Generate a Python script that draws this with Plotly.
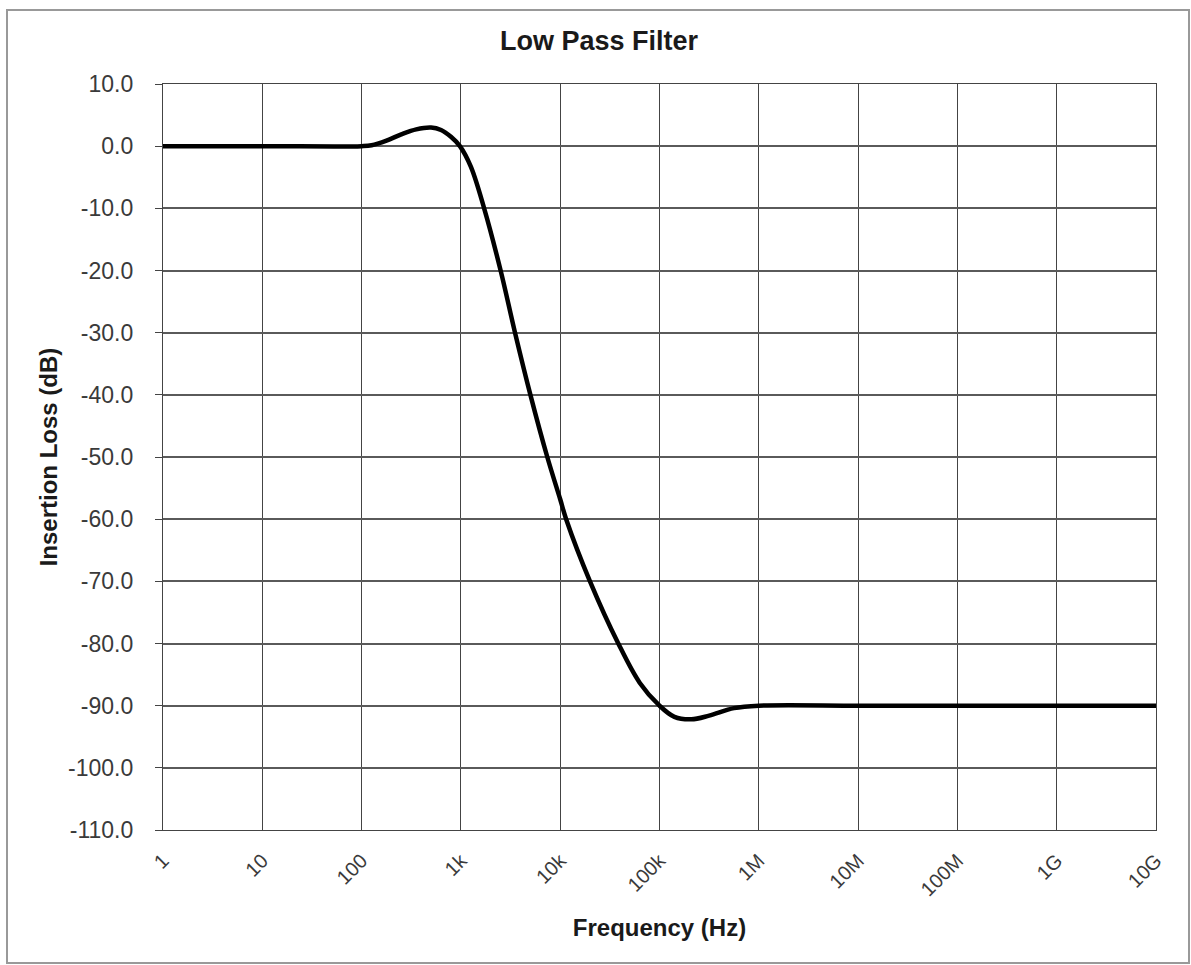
import plotly.graph_objects as go

# Data
freq_hz = [1, 10, 100, 126, 178, 251, 355, 501, 631, 794, 977, 1259, 1714,
           2512, 3508, 5012, 7413, 10000, 11482, 19953, 38459, 63096, 100000,
           141254, 208930, 316228, 562341, 1e6, 1e7, 1e8, 1e9, 1e10]
loss_db = [0.0, 0.0, 0.0, 0.15, 0.9, 1.9, 2.7, 3.0, 2.6, 1.5, 0.0, -3.3, -10.0,
           -20.0, -30.0, -40.0, -50.0, -56.8, -60.0, -70.0, -80.0, -86.3, -90.0,
           -91.8, -92.2, -91.6, -90.4, -90.0, -90.0, -90.0, -90.0, -90.0]

x_tickvals = [1, 10, 100, 1e3, 1e4, 1e5, 1e6, 1e7, 1e8, 1e9, 1e10]
x_ticktext = ["1", "10", "100", "1k", "10k", "100k", "1M", "10M", "100M", "1G", "10G"]
y_tickvals = list(range(10, -111, -10))
y_ticktext = ["10.0", "0.0", "-10.0", "-20.0", "-30.0", "-40.0", "-50.0", "-60.0",
              "-70.0", "-80.0", "-90.0", "-100.0", "-110.0"]

W, H = 1191, 965
L, T = 163, 84
R = W - 1156
B = H - 830
pw, ph = W - L - R, H - T - B

fig = go.Figure()
fig.add_trace(go.Scatter(x=freq_hz, y=loss_db, mode="lines",
                         line=dict(color="black", width=4.5, shape="spline", smoothing=1.0),
                         showlegend=False, hoverinfo="x+y"))

font = "Liberation Sans, Arial, sans-serif"
fig.update_layout(
    width=W, height=H,
    margin=dict(l=L, r=R, t=T, b=B),
    paper_bgcolor="white", plot_bgcolor="white",
    font=dict(family=font, color="#222", size=20),
    title=dict(text="<b>Low Pass Filter</b>", x=599 / W, xanchor="center",
               y=1 - 41 / H, yanchor="middle", font=dict(size=27, color="#1a1a1a")),
    xaxis=dict(type="log", range=[0, 10], tickvals=x_tickvals, ticktext=x_ticktext,
               tickangle=-45, showgrid=True, gridcolor="#444", gridwidth=1.3,
               showline=True, linecolor="#444", linewidth=1.3, mirror=True,
               ticks="", tickfont=dict(size=20, color="#3a3a3a"), ticklabelstandoff=10,
               title=dict(text="<b>Frequency (Hz)</b>", font=dict(size=24, color="#1a1a1a"),
                          standoff=19)),
    yaxis=dict(range=[-110, 10], tickvals=y_tickvals, ticktext=y_ticktext,
               showgrid=True, gridcolor="#5a5a5a", gridwidth=1.6, zeroline=False,
               showline=True, linecolor="#444", linewidth=1.3, mirror=True,
               ticks="outside", ticklen=7, tickcolor="#444", ticklabelstandoff=17,
               tickfont=dict(size=23, color="#3a3a3a"),
               title=dict(text="<b>Insertion Loss (dB)</b>", font=dict(size=24, color="#1a1a1a"),
                          standoff=3)),
)

# chart-area border (Excel style)
fig.add_shape(type="rect", xref="paper", yref="paper",
              x0=(7 - L) / pw, x1=(1189 - L) / pw,
              y0=(830 - 963) / ph, y1=(830 - 10) / ph,
              line=dict(color="#999", width=2), layer="below")

fig.write_html("out.html", config={"displayModeBar": False},
               post_script="document.body.style.margin='0';")
